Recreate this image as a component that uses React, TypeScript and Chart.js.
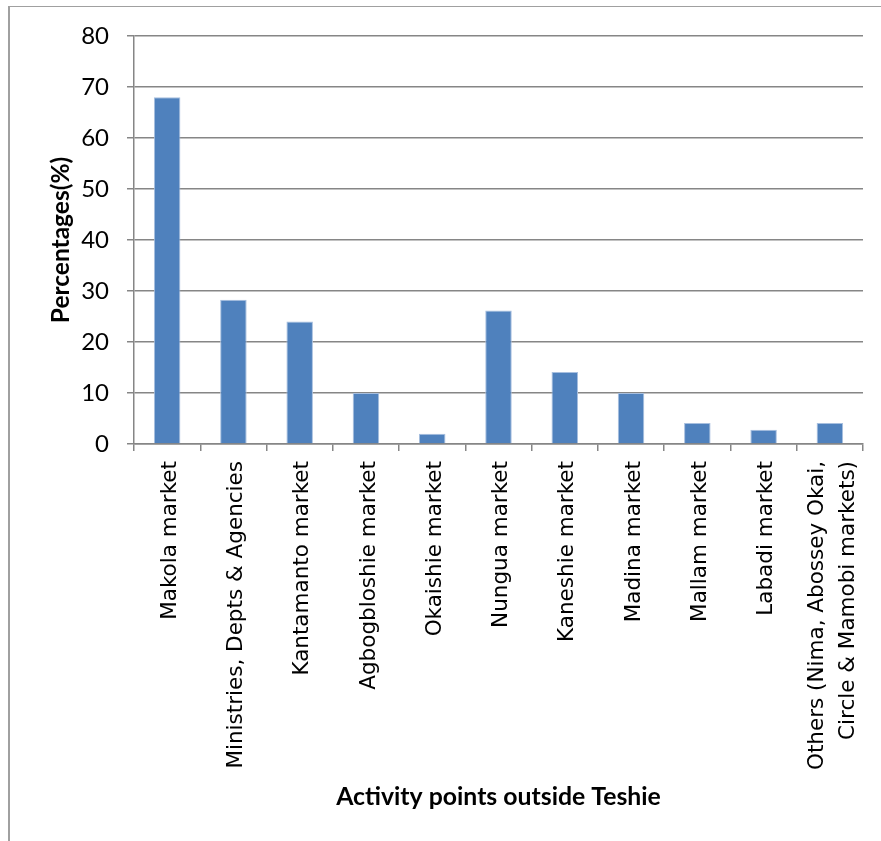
import React, { useEffect, useRef } from "react";
import { Chart, registerables } from "chart.js";

Chart.register(...registerables);

const categories: (string | string[])[] = [
  "Makola market",
  "Ministries, Depts & Agencies",
  "Kantamanto market",
  "Agbogbloshie market",
  "Okaishie market",
  "Nungua market",
  "Kaneshie market",
  "Madina market",
  "Mallam market",
  "Labadi market",
  ["Others (Nima, Abossey Okai,", "Circle & Mamobi markets)"],
];

const percentages = [68, 28.3, 24, 10, 2, 26.2, 14.1, 10, 4.1, 2.8, 4.1];

const yMin = 0;
const yMax = 80;
const yStep = 10;

const yTitle = "Percentages(%)";
const xTitle = "Activity points outside Teshie";

const X_FONT_SIZE = 21.5;
const X_LINE_HEIGHT = 1.45;

// centre multi-line rotated labels on their tick (Chart.js puts the first line on it)
const centerLabelsPlugin = {
  id: "centerRotatedLabels",
  beforeDraw(chart: any) {
    const s: any = chart.scales.x;
    if (!s || !s.getLabelItems) return;
    const items = s.getLabelItems();
    const lh = X_FONT_SIZE * X_LINE_HEIGHT;
    items.forEach((it: any) => {
      if (it.__shifted) return;
      const lines = Array.isArray(it.label) ? it.label.length : 1;
      it.options.translation[0] += 3 - ((lines - 1) * lh) / 2;
      it.__shifted = true;
    });
  },
};

export default function App() {
  const ref = useRef<HTMLCanvasElement>(null);

  useEffect(() => {
    const canvas = ref.current;
    if (!canvas) return;
    const gridColor = "#868686";
    const chart = new Chart(canvas, {
      type: "bar",
      data: {
        labels: categories,
        datasets: [
          {
            data: percentages,
            backgroundColor: "#4F81BD",
            borderColor: "#a7bfdf",
            borderWidth: 1,
            categoryPercentage: 1,
            barPercentage: 0.4,
          },
        ],
      },
      plugins: [centerLabelsPlugin],
      options: {
        responsive: false,
        animation: false,
        devicePixelRatio: 1,
        layout: {
          padding: { left: 46.6, top: 36, right: 18, bottom: 29.6 },
        },
        plugins: {
          legend: { display: false },
          tooltip: { enabled: false },
        },
        scales: {
          x: {
            grid: {
              offset: true,
              drawOnChartArea: false,
              tickLength: 7,
              color: gridColor,
              lineWidth: 1.5,
            },
            border: { color: gridColor, width: 1.5 },
            ticks: {
              autoSkip: false,
              maxRotation: 90,
              minRotation: 90,
              padding: 10,
              color: "#000",
              font: { family: "DejaVu Sans", size: X_FONT_SIZE, lineHeight: X_LINE_HEIGHT },
            },
            title: {
              display: true,
              text: xTitle,
              color: "#000",
              padding: 0,
              font: { family: "Lato", size: 24.8, weight: "bold" },
            },
            afterFit: (s: any) => {
              s.height = 367.4;
              s.paddingLeft = 0;
              s.paddingRight = 0;
            },
          },
          y: {
            min: yMin,
            max: yMax,
            ticks: {
              stepSize: yStep,
              padding: 18,
              color: "#000",
              font: { family: "Lato", size: 24 },
            },
            grid: {
              color: gridColor,
              lineWidth: 1.5,
              tickLength: 7,
            },
            border: { color: gridColor, width: 1.5 },
            title: {
              display: true,
              text: yTitle,
              color: "#000",
              padding: 0,
              font: { family: "Lato", size: 24.5, weight: "bold" },
            },
            afterFit: (s: any) => {
              s.width = 87.4;
              s.paddingTop = 0;
              s.paddingBottom = 0;
            },
          },
        },
      } as any,
    });
    return () => chart.destroy();
  }, []);

  return (
    <div
      style={{
        position: "absolute",
        left: 0,
        top: 0,
        width: 881,
        height: 841,
        background: "#fff",
        overflow: "hidden",
      }}
    >
      <div
        style={{
          position: "absolute",
          left: 8,
          top: 6,
          right: 0,
          bottom: 0,
          borderTop: "1.5px solid #a0a0a0",
          borderLeft: "2px solid #a0a0a0",
        }}
      />
      <canvas
        ref={ref}
        width={881}
        height={841}
        style={{ position: "absolute", left: 0, top: 0, width: 881, height: 841 }}
      />
    </div>
  );
}
